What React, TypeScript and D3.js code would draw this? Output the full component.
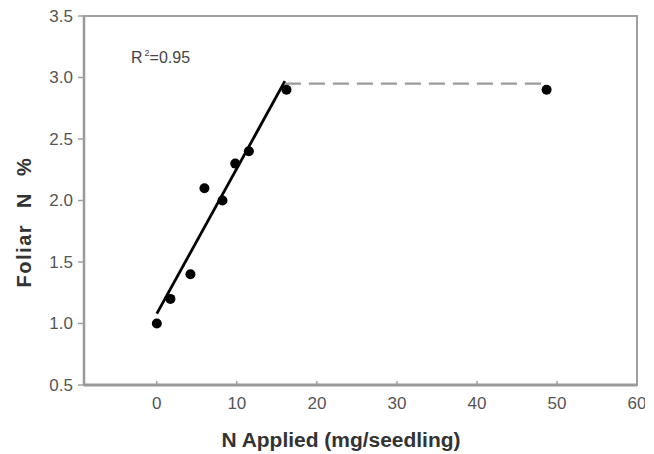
import React from "react"
import * as d3 from "d3"

// observed foliar N vs N applied
const nApplied = [0, 1.7, 4.2, 5.95, 8.2, 9.8, 11.5, 16.2, 48.7]
const foliarN = [1.0, 1.2, 1.4, 2.1, 2.0, 2.3, 2.4, 2.9, 2.9]

// linear-plateau fit
const fitX = [0, 16.0]
const fitY = [1.08, 2.97]
const plateauX = [16.0, 48]
const plateauY = [2.95, 2.95]

const xTicks = [0, 10, 20, 30, 40, 50, 60]
const yTicks = [0.5, 1.0, 1.5, 2.0, 2.5, 3.0, 3.5]

const W = 654
const H = 454
const M = { left: 84, right: 17, top: 16, bottom: 69 }

export default function App() {
  const x = d3.scaleLinear().domain([-9.1, 60]).range([M.left, W - M.right])
  const y = d3.scaleLinear().domain([0.5, 3.5]).range([H - M.bottom, M.top])

  const path = d3
    .line<[number, number]>()
    .x(d => x(d[0]))
    .y(d => y(d[1]))

  const font = "Arial, 'Liberation Sans', sans-serif"
  const axisColor = "#a0a0a0"
  const bottom = H - M.bottom

  return (
    <svg
      width={W}
      height={H}
      style={{ position: "absolute", left: 0, top: 0, background: "#fff" }}
      fontFamily={font}
    >
      <defs>
        <clipPath id="cut">
          <rect x={0} y={0} width={645} height={H} />
        </clipPath>
      </defs>

      {/* frame */}
      <rect
        x={M.left}
        y={M.top}
        width={W - M.left - M.right}
        height={bottom - M.top}
        fill="none"
        stroke={axisColor}
        strokeWidth={2}
      />
      <line x1={M.left} x2={W - M.right} y1={bottom} y2={bottom} stroke="#999" strokeWidth={3} />
      <line x1={M.left} x2={M.left} y1={M.top} y2={bottom} stroke="#999" strokeWidth={2.5} />

      {/* y axis */}
      {yTicks.map(t => (
        <g key={t}>
          <line x1={M.left - 6} x2={M.left} y1={y(t)} y2={y(t)} stroke={axisColor} strokeWidth={1.5} />
          <text
            x={M.left - 11}
            y={y(t)}
            textAnchor="end"
            dominantBaseline="central"
            fontSize={17}
            fill="#555"
          >
            {t.toFixed(1)}
          </text>
        </g>
      ))}

      {/* x axis */}
      <g clipPath="url(#cut)">
        {xTicks.map(t => (
          <g key={t}>
            <line x1={x(t)} x2={x(t)} y1={bottom} y2={bottom - 4} stroke={axisColor} strokeWidth={1.5} />
            <text x={x(t)} y={bottom + 24} textAnchor="middle" fontSize={17} fill="#555">
              {t}
            </text>
          </g>
        ))}
      </g>

      {/* fit lines */}
      <path
        d={path(d3.zip(fitX, fitY) as [number, number][]) || ""}
        fill="none"
        stroke="#000"
        strokeWidth={2.8}
      />
      <path
        d={path(d3.zip(plateauX, plateauY) as [number, number][]) || ""}
        fill="none"
        stroke="#999"
        strokeWidth={2.2}
        strokeDasharray="16,8"
      />

      {/* points */}
      {nApplied.map((v, i) => (
        <circle key={i} cx={x(v)} cy={y(foliarN[i])} r={5} fill="#000" />
      ))}

      {/* R² label */}
      <text x={131} y={63} fontSize={16} fill="#444">
        R<tspan dx={2} dy={-7} fontSize={9}>2</tspan>
        <tspan dy={7}>=0.95</tspan>
      </text>

      {/* axis titles */}
      <text
        x={341}
        y={447}
        textAnchor="middle"
        fontSize={20}
        fontWeight="bold"
        fill="#333"
        textLength={239}
        lengthAdjust="spacingAndGlyphs"
      >
        N Applied (mg/seedling)
      </text>
      <text
        transform={`translate(31, 222) rotate(-90)`}
        textAnchor="middle"
        fontSize={20}
        fontWeight="bold"
        fill="#333"
        style={{ letterSpacing: "1.5px", wordSpacing: "9px" }}
      >
        Foliar N %
      </text>
    </svg>
  )
}
